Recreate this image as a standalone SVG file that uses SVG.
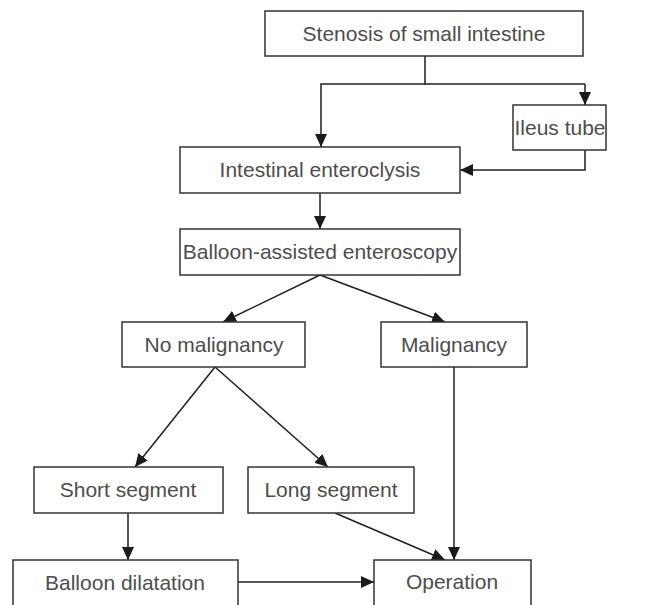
<svg xmlns="http://www.w3.org/2000/svg" width="660" height="605" viewBox="0 0 660 605">
<defs>
<marker id="ah" markerUnits="userSpaceOnUse" markerWidth="14" markerHeight="12" refX="13" refY="6" orient="auto">
<path d="M0,0 L13,6 L0,12 Z" fill="#1a1a1a"/>
</marker>
<style>
.box{fill:#fff;stroke:#333;stroke-width:1.5}
.lbl{font-family:"Liberation Sans",Arial,sans-serif;font-size:21px;fill:#4d4d4d;text-anchor:middle}
.con{fill:none;stroke:#1f1f1f;stroke-width:1.5}
.arr{marker-end:url(#ah)}
</style>
</defs>
<rect width="660" height="605" fill="#fff"/>
<g id="connectors">
<path class="con" d="M425,56 V84 H585"/>
<path class="con arr" d="M425,84 H321 V147"/>
<path class="con arr" d="M585,84 V105"/>
<path class="con arr" d="M585,150 V170 H460"/>
<path class="con arr" d="M320,193 V229"/>
<path class="con arr" d="M320,275 L223,322"/>
<path class="con arr" d="M320,275 L445,322"/>
<path class="con arr" d="M215,367 L135,467"/>
<path class="con arr" d="M215,367 L328,467"/>
<path class="con arr" d="M454,367 V560"/>
<path class="con arr" d="M128,513 V560"/>
<path class="con arr" d="M335,513 L445,560"/>
<path class="con arr" d="M238,582 H374"/>
</g>
<g id="stenosis"><rect class="box" x="265" y="11" width="318" height="45"/><text class="lbl" x="424" y="41">Stenosis of small intestine</text></g>
<g id="ileus"><rect class="box" x="513" y="105" width="93" height="45"/><text class="lbl" x="560" y="135">Ileus tube</text></g>
<g id="enteroclysis"><rect class="box" x="180" y="147" width="280" height="46"/><text class="lbl" x="320" y="177">Intestinal enteroclysis</text></g>
<g id="bae"><rect class="box" x="180" y="229" width="280" height="46"/><text class="lbl" x="320" y="259">Balloon-assisted enteroscopy</text></g>
<g id="nomalig"><rect class="box" x="122" y="322" width="183" height="45"/><text class="lbl" x="214" y="352">No malignancy</text></g>
<g id="malig"><rect class="box" x="381" y="322" width="146" height="45"/><text class="lbl" x="454" y="352">Malignancy</text></g>
<g id="short"><rect class="box" x="34" y="467" width="189" height="46"/><text class="lbl" x="128" y="497">Short segment</text></g>
<g id="long"><rect class="box" x="248" y="467" width="166" height="46"/><text class="lbl" x="331" y="497">Long segment</text></g>
<g id="dilatation"><rect class="box" x="13" y="560" width="225" height="55"/><text class="lbl" x="125" y="590">Balloon dilatation</text></g>
<g id="operation"><rect class="box" x="374" y="560" width="157" height="55"/><text class="lbl" x="452" y="589">Operation</text></g>
</svg>
